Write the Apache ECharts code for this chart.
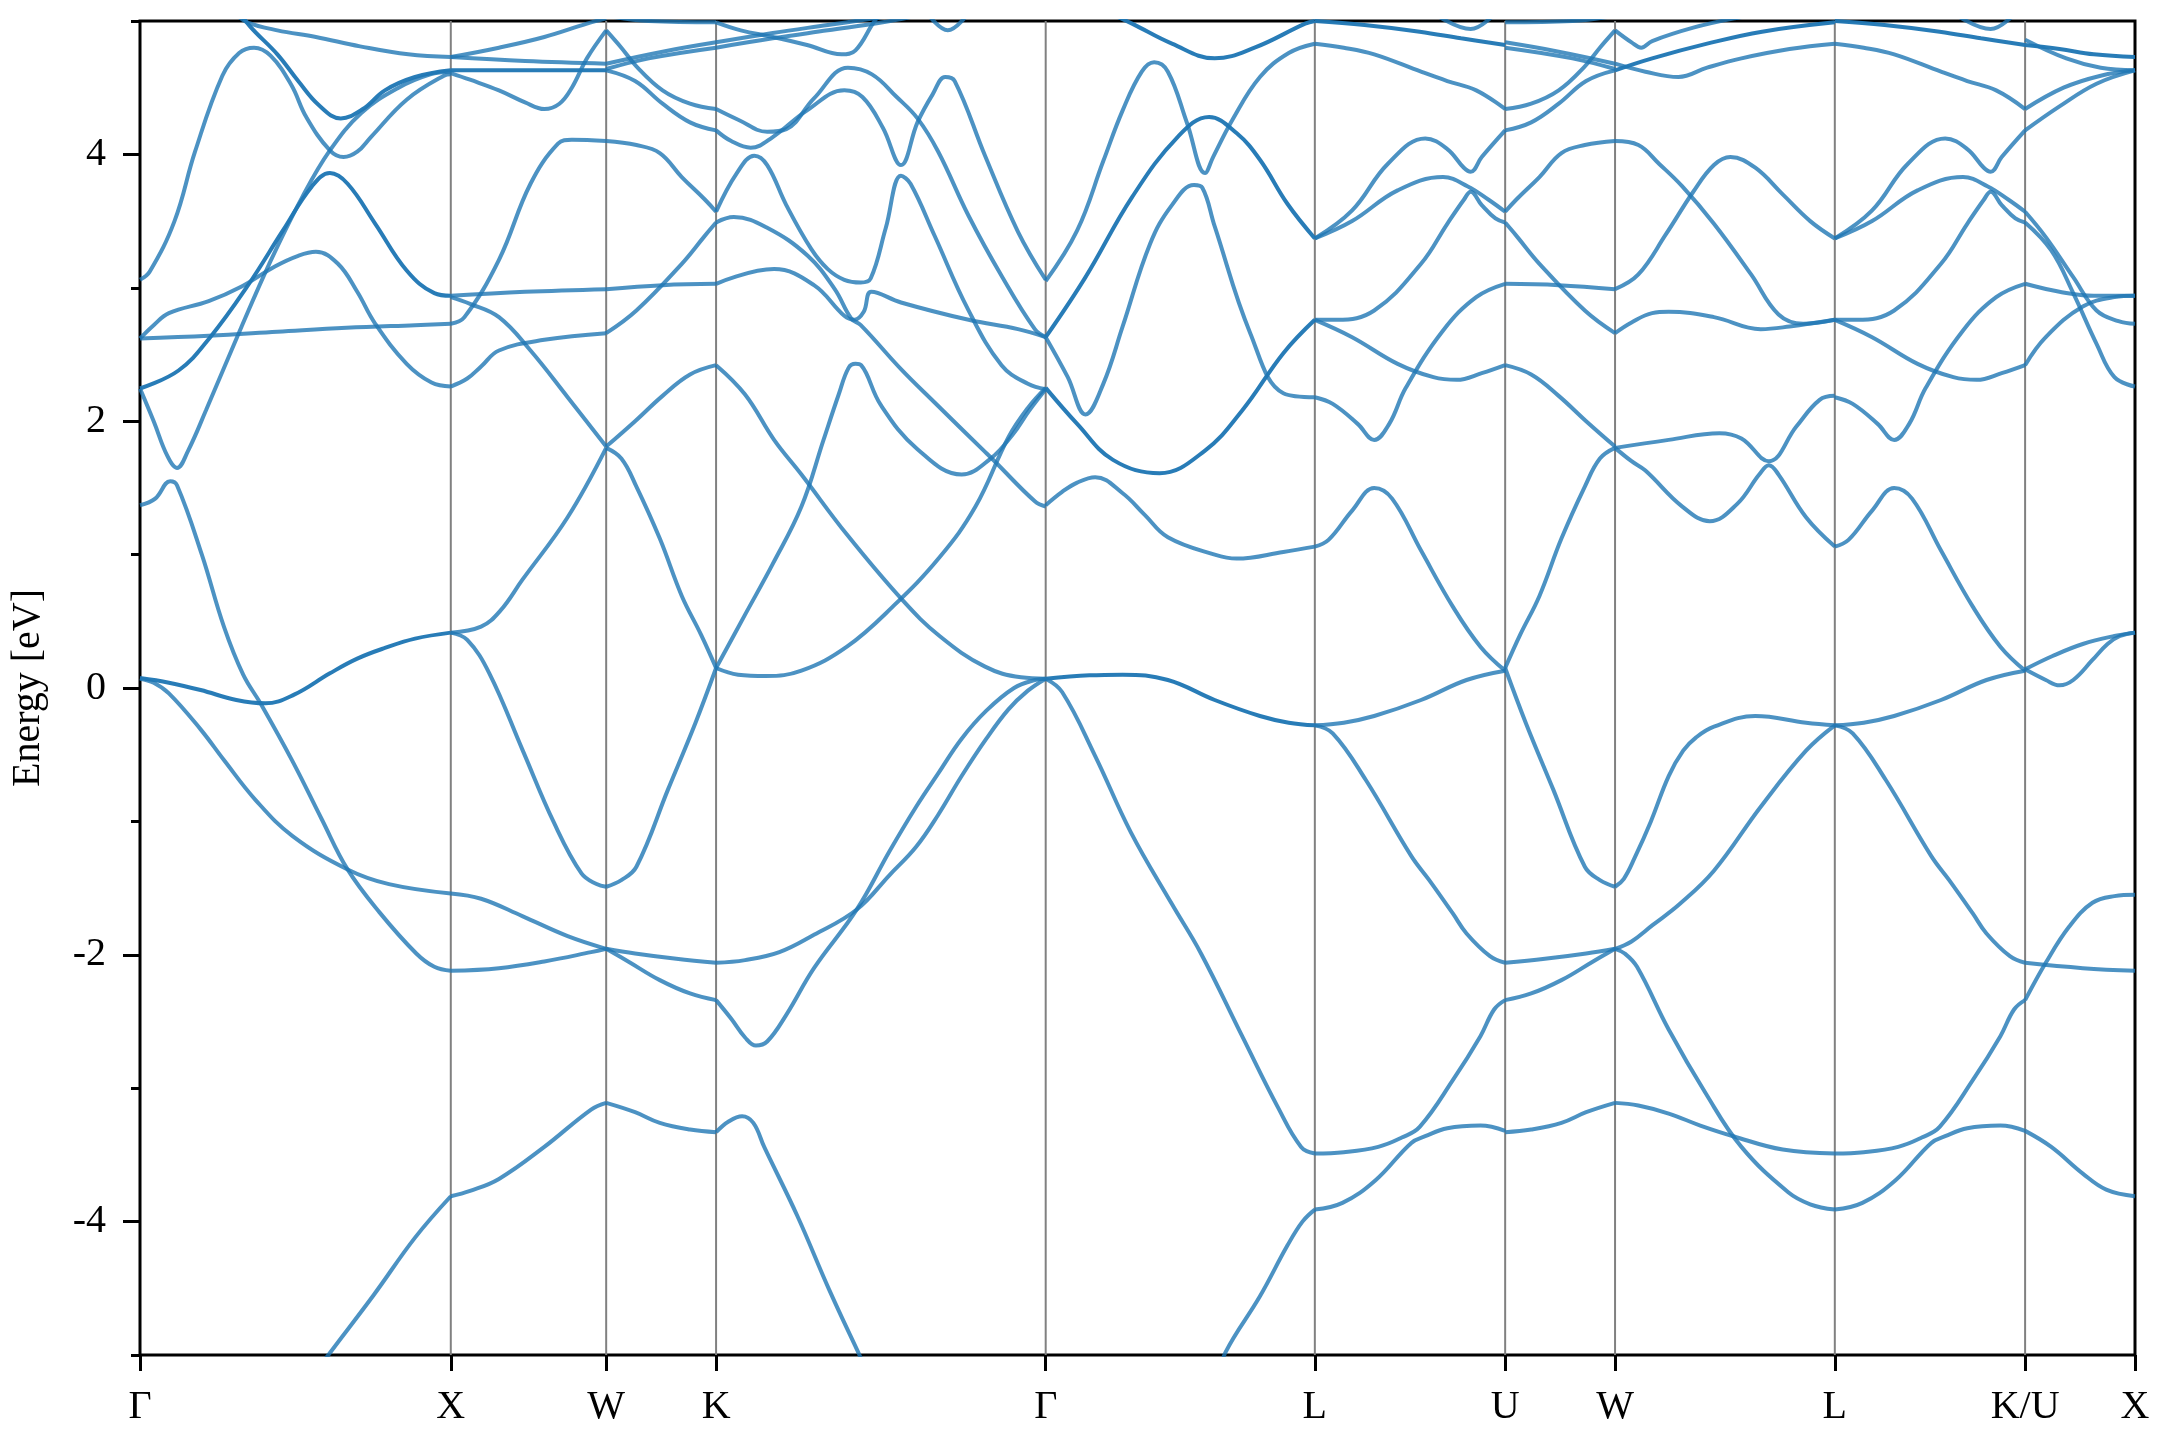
<!DOCTYPE html>
<html>
<head>
<meta charset="utf-8">
<script src="https://cdn.jsdelivr.net/npm/echarts@6/dist/echarts.min.js"></script>
<style>
html,body{margin:0;padding:0;background:#fff;}
#chart{width:2160px;height:1440px;}
</style>
</head>
<body>
<div id="chart"></div>
<script>
// High-symmetry points along the FCC path (path length in units of 2π/a)
const kTicks = [0, 1, 1.5, 1.8536, 2.9142, 3.7802, 4.3926, 4.7462, 5.4533, 6.0656, 6.4192];
const kLabels = ['Γ', 'X', 'W', 'K', 'Γ', 'L', 'U', 'W', 'L', 'K/U', 'X'];
const yMajor = [-4, -2, 0, 2, 4];
const yMinor = [-5, -3, -1, 1, 3, 5];

// degenerate (doubly drawn) band marker
const dg = p => ({ p: p, d: true });

// Each band: list of [fraction along segment, energy eV]
const gammaX = [
  [[0.553,-5.17],[0.606,-5.0],[0.752,-4.55],[0.885,-4.12],[1,-3.81]],
  [[0,1.37],[0.049,1.42],[0.097,1.55],[0.119,1.52],[0.199,1.0],[0.27,0.46],[0.332,0.1],[0.389,-0.12],[0.491,-0.55],[0.584,-0.98],[0.668,-1.36],[0.77,-1.68],[0.889,-1.99],[0.947,-2.09],[1,-2.12]],
  [[0,0.07],[0.044,0.04],[0.093,-0.04],[0.195,-0.31],[0.27,-0.54],[0.372,-0.84],[0.491,-1.11],[0.668,-1.36],[0.801,-1.47],[1,-1.54]],
  dg([[0,0.075],[0.093,0.04],[0.195,-0.015],[0.31,-0.09],[0.403,-0.115],[0.496,-0.05],[0.611,0.11],[0.699,0.22],[0.788,0.3],[0.885,0.37],[1,0.415]]),
  dg([[0,2.245],[0.124,2.38],[0.226,2.63],[0.345,3.01],[0.46,3.43],[0.553,3.76],[0.611,3.86],[0.668,3.78],[0.757,3.48],[0.858,3.13],[0.947,2.96],[1,2.94]]),
  [[0,2.245],[0.044,2.0],[0.088,1.74],[0.119,1.65],[0.155,1.78],[0.212,2.08],[0.327,2.71],[0.416,3.18],[0.522,3.68],[0.611,4.03],[0.712,4.31],[0.832,4.5],[0.934,4.6],[1,4.62]],
  [[0,2.62],[0.221,2.64],[0.442,2.67],[0.664,2.7],[0.885,2.72],[1,2.73]],
  [[0,2.62],[0.044,2.72],[0.093,2.81],[0.221,2.9],[0.327,3.01],[0.434,3.16],[0.509,3.24],[0.566,3.27],[0.637,3.18],[0.699,2.97],[0.757,2.73],[0.858,2.43],[0.938,2.29],[1,2.26]],
  [[0,3.06],[0.031,3.12],[0.111,3.5],[0.177,4.02],[0.265,4.59],[0.319,4.76],[0.367,4.8],[0.42,4.74],[0.487,4.52],[0.535,4.28],[0.611,4.03],[0.655,3.98],[0.699,4.02],[0.743,4.13],[0.858,4.41],[0.978,4.59],[1,4.6]],
  dg([[0.31,5.1],[0.354,4.96],[0.442,4.75],[0.509,4.55],[0.575,4.37],[0.646,4.27],[0.717,4.34],[0.788,4.48],[0.885,4.58],[1,4.63]]),
  [[0.31,5.05],[0.345,4.99],[0.442,4.93],[0.566,4.88],[0.708,4.81],[0.863,4.75],[1,4.73]]
];

const xW = [
  [[0,-3.81],[0.124,-3.77],[0.31,-3.68],[0.602,-3.44],[0.903,-3.16],[1,-3.11]],
  [[0,-2.12],[0.31,-2.1],[0.602,-2.05],[0.903,-1.98],[1,-1.955]],
  [[0,-1.54],[0.195,-1.58],[0.46,-1.71],[0.752,-1.86],[1,-1.955]],
  [[0,0.415],[0.106,0.36],[0.248,0.11],[0.46,-0.46],[0.664,-1.01],[0.841,-1.39],[0.938,-1.47],[1,-1.49]],
  [[0,0.415],[0.195,0.46],[0.319,0.58],[0.46,0.81],[0.752,1.28],[1,1.8]],
  [[0,2.93],[0.124,2.88],[0.31,2.78],[0.513,2.53],[0.752,2.18],[1,1.81]],
  [[0,2.26],[0.106,2.32],[0.195,2.41],[0.31,2.53],[0.602,2.61],[1,2.66]],
  [[0,2.73],[0.088,2.78],[0.31,3.21],[0.513,3.78],[0.69,4.08],[0.779,4.11],[1,4.1]],
  [[0,2.94],[0.478,2.97],[1,2.99]],
  dg([[0,4.63],[0.478,4.63],[1,4.63]]),
  [[0,4.73],[0.478,4.7],[1,4.68]],
  [[0,4.61],[0.124,4.56],[0.31,4.48],[0.478,4.39],[0.602,4.34],[0.699,4.38],[0.779,4.5],[0.876,4.72],[1,4.93]],
  [[0,4.73],[0.31,4.8],[0.602,4.88],[0.876,4.98],[1,5.02]]
];

// W -> K (also used reversed for U -> W)
const wK = [
  [[0,-3.11],[0.263,-3.18],[0.488,-3.26],[0.763,-3.31],[1,-3.33]],
  [[0,-1.955],[0.263,-1.99],[0.638,-2.03],[1,-2.06]],
  [[0,-1.955],[0.2,-2.05],[0.488,-2.19],[0.763,-2.29],[1,-2.34]],
  [[0,-1.49],[0.138,-1.44],[0.275,-1.34],[0.563,-0.76],[0.813,-0.26],[1,0.15]],
  [[0,1.8],[0.138,1.72],[0.275,1.51],[0.488,1.12],[0.688,0.69],[0.863,0.4],[1,0.15]],
  [[0,1.81],[0.263,2.0],[0.513,2.19],[0.763,2.35],[1,2.42]],
  [[0,2.66],[0.275,2.83],[0.688,3.18],[0.888,3.38],[1,3.49]],
  [[0,2.99],[0.513,3.02],[1,3.03]],
  [[0,4.1],[0.275,4.07],[0.488,4.01],[0.688,3.83],[0.9,3.66],[1,3.57]],
  [[0,4.93],[0.138,4.8],[0.275,4.66],[0.513,4.48],[0.763,4.38],[1,4.34]],
  [[0,4.63],[0.263,4.55],[0.513,4.38],[0.763,4.24],[1,4.18]],
  [[0,4.64],[0.388,4.72],[1,4.8]],
  [[0,4.68],[0.513,4.77],[1,4.84]],
  [[0,5.04],[0.388,5.0],[1,4.99]]
];

const kGamma = [
  [[0,-3.33],[0.038,-3.25],[0.079,-3.21],[0.113,-3.26],[0.146,-3.44],[0.247,-3.96],[0.343,-4.51],[0.435,-5.0],[0.464,-5.15]],
  [[0,-2.34],[0.046,-2.48],[0.088,-2.62],[0.121,-2.68],[0.155,-2.65],[0.213,-2.45],[0.297,-2.1],[0.427,-1.66],[0.527,-1.22],[0.607,-0.89],[0.674,-0.64],[0.745,-0.38],[0.82,-0.17],[0.904,0.0],[0.967,0.06],[1,0.07]],
  [[0,-2.06],[0.088,-2.04],[0.192,-1.98],[0.297,-1.85],[0.427,-1.66],[0.527,-1.4],[0.607,-1.19],[0.674,-0.95],[0.745,-0.66],[0.82,-0.38],[0.887,-0.16],[0.946,-0.02],[1,0.07]],
  [[0,0.15],[0.067,0.1],[0.151,0.09],[0.259,0.13],[0.397,0.31],[0.536,0.61],[0.678,0.98],[0.787,1.36],[0.887,1.88],[0.946,2.1],[1,2.25]],
  [[0,0.15],[0.088,0.55],[0.172,0.93],[0.259,1.36],[0.326,1.86],[0.372,2.2],[0.402,2.4],[0.423,2.43],[0.44,2.42],[0.5,2.12],[0.611,1.79],[0.745,1.6],[0.833,1.72],[0.9,1.9],[0.95,2.08],[1,2.24]],
  [[0,2.42],[0.088,2.2],[0.176,1.86],[0.259,1.6],[0.397,1.15],[0.565,0.66],[0.678,0.39],[0.816,0.16],[0.925,0.08],[1,0.07]],
  [[0,3.49],[0.054,3.53],[0.155,3.45],[0.278,3.24],[0.36,2.99],[0.41,2.77],[0.439,2.72],[0.561,2.39],[0.663,2.14],[0.816,1.77],[0.845,1.7],[0.967,1.4],[1,1.36]],
  [[0,3.03],[0.176,3.14],[0.297,3.02],[0.389,2.79],[0.42,2.76],[0.448,2.82],[0.471,2.97],[0.561,2.89],[0.766,2.76],[0.916,2.69],[1,2.63]],
  [[0,3.57],[0.063,3.86],[0.116,3.99],[0.155,3.92],[0.213,3.62],[0.289,3.29],[0.339,3.14],[0.389,3.06],[0.439,3.04],[0.469,3.07],[0.515,3.45],[0.561,3.84],[0.59,3.78],[0.663,3.39],[0.764,2.84],[0.866,2.42],[0.946,2.28],[1,2.24]],
  [[0,4.34],[0.067,4.26],[0.155,4.17],[0.213,4.19],[0.297,4.42],[0.4,4.65],[0.473,4.6],[0.548,4.43],[0.611,4.27],[0.674,4.02],[0.766,3.54],[0.866,3.09],[0.967,2.69],[1,2.63]],
  [[0,4.18],[0.046,4.1],[0.105,4.05],[0.172,4.13],[0.276,4.33],[0.389,4.48],[0.444,4.43],[0.506,4.2],[0.561,3.92],[0.611,4.24],[0.657,4.45],[0.695,4.58],[0.724,4.55],[0.816,3.99],[0.916,3.42],[1,3.06]],
  [[0,4.84],[0.172,4.91],[0.339,4.97],[0.506,5.03]],
  [[0,4.8],[0.172,4.87],[0.339,4.93],[0.506,4.99],[0.59,5.03]],
  [[0,4.99],[0.075,4.93],[0.172,4.88],[0.276,4.82],[0.381,4.75],[0.423,4.78],[0.481,5.0],[0.506,5.06]],
  [[0.64,5.06],[0.703,4.93],[0.766,5.06]]
];

const gammaL = [
  [[0.648,-5.15],[0.668,-4.98],[0.796,-4.56],[0.898,-4.18],[0.954,-4.0],[1,-3.91]],
  [[0,0.07],[0.061,-0.03],[0.184,-0.51],[0.316,-1.08],[0.469,-1.62],[0.577,-1.99],[0.73,-2.61],[0.862,-3.14],[0.949,-3.44],[1,-3.49]],
  dg([[0,0.07],[0.163,0.095],[0.286,0.1],[0.454,0.06],[0.628,-0.09],[0.796,-0.21],[0.903,-0.26],[1,-0.28]]),
  [[0,1.37],[0.061,1.47],[0.117,1.54],[0.184,1.58],[0.286,1.46],[0.367,1.3],[0.454,1.13],[0.628,1.0],[0.709,0.97],[0.883,1.02],[1,1.06]],
  dg([[0,2.25],[0.117,1.98],[0.25,1.71],[0.423,1.61],[0.592,1.78],[0.73,2.08],[0.883,2.51],[1,2.76]]),
  dg([[0,2.63],[0.148,3.08],[0.321,3.68],[0.49,4.13],[0.607,4.28],[0.709,4.16],[0.796,3.96],[0.898,3.63],[1,3.37]]),
  [[0,2.63],[0.082,2.33],[0.148,2.05],[0.214,2.28],[0.286,2.71],[0.388,3.33],[0.469,3.62],[0.551,3.77],[0.582,3.75],[0.628,3.46],[0.76,2.66],[0.883,2.21],[1,2.18]],
  [[0,3.05],[0.117,3.43],[0.214,3.95],[0.286,4.33],[0.357,4.62],[0.403,4.69],[0.454,4.62],[0.526,4.23],[0.592,3.86],[0.622,3.98],[0.694,4.26],[0.796,4.58],[0.903,4.76],[1,4.83]],
  dg([[0.214,5.08],[0.321,4.98],[0.469,4.83],[0.628,4.72],[0.776,4.8],[0.964,4.98],[1,5.0]])
];

// L -> U (also used for L -> K)
const lU = [
  [[0,-3.91],[0.145,-3.86],[0.319,-3.69],[0.507,-3.41],[0.58,-3.36],[0.696,-3.3],[0.87,-3.28],[1,-3.32]],
  [[0,-3.49],[0.152,-3.48],[0.333,-3.44],[0.457,-3.37],[0.551,-3.29],[0.725,-2.94],[0.87,-2.61],[0.942,-2.41],[1,-2.34]],
  [[0,-0.28],[0.094,-0.34],[0.268,-0.69],[0.507,-1.26],[0.601,-1.44],[0.725,-1.69],[0.797,-1.84],[0.92,-2.01],[1,-2.06]],
  [[0,-0.28],[0.152,-0.26],[0.312,-0.21],[0.558,-0.09],[0.797,0.06],[1,0.13]],
  [[0,1.06],[0.072,1.11],[0.196,1.33],[0.312,1.5],[0.406,1.42],[0.558,1.03],[0.725,0.61],[0.87,0.31],[1,0.13]],
  [[0,2.18],[0.094,2.13],[0.225,1.98],[0.312,1.86],[0.391,1.98],[0.478,2.25],[0.674,2.68],[0.848,2.93],[1,3.03]],
  [[0,2.76],[0.196,2.63],[0.435,2.43],[0.623,2.33],[0.746,2.31],[0.877,2.36],[1,2.42]],
  [[0,2.76],[0.116,2.76],[0.312,2.83],[0.558,3.18],[0.696,3.48],[0.783,3.66],[0.819,3.72],[0.877,3.62],[0.949,3.52],[1,3.49]],
  [[0,3.37],[0.196,3.58],[0.384,3.93],[0.58,4.12],[0.696,4.04],[0.783,3.9],[0.819,3.87],[0.877,3.98],[1,4.18]],
  [[0,3.37],[0.196,3.5],[0.435,3.73],[0.674,3.83],[0.804,3.76],[0.913,3.66],[1,3.57]],
  [[0,4.83],[0.152,4.8],[0.312,4.75],[0.558,4.62],[0.696,4.55],[0.848,4.48],[1,4.34]],
  dg([[0,5.0],[0.261,4.97],[0.551,4.92],[0.768,4.87],[1,4.82]]),
  [[0.623,5.06],[0.819,4.94],[0.949,5.06]]
];

const wL = [
  [[0,-3.11],[0.106,-3.13],[0.244,-3.19],[0.388,-3.28],[0.538,-3.36],[0.763,-3.46],[1,-3.49]],
  [[0,-1.955],[0.044,-1.99],[0.1,-2.09],[0.244,-2.56],[0.413,-3.04],[0.575,-3.44],[0.788,-3.78],[0.888,-3.87],[1,-3.91]],
  [[0,-1.955],[0.075,-1.9],[0.169,-1.78],[0.294,-1.62],[0.45,-1.37],[0.663,-0.89],[0.869,-0.47],[1,-0.28]],
  [[0,-1.49],[0.04,-1.43],[0.09,-1.27],[0.163,-1.0],[0.244,-0.66],[0.31,-0.47],[0.369,-0.37],[0.45,-0.29],[0.638,-0.21],[0.869,-0.26],[1,-0.28]],
  [[0,1.8],[0.075,1.7],[0.138,1.63],[0.306,1.36],[0.431,1.25],[0.556,1.38],[0.656,1.6],[0.7,1.67],[0.744,1.6],[0.869,1.28],[1,1.06]],
  [[0,1.8],[0.244,1.86],[0.475,1.91],[0.575,1.87],[0.7,1.7],[0.825,1.96],[0.931,2.16],[1,2.19]],
  [[0,2.66],[0.075,2.74],[0.169,2.81],[0.244,2.82],[0.45,2.78],[0.663,2.69],[0.794,2.71],[1,2.76]],
  [[0,4.1],[0.106,4.07],[0.2,3.93],[0.306,3.76],[0.45,3.48],[0.619,3.1],[0.744,2.8],[0.856,2.73],[1,2.76]],
  [[0,2.99],[0.106,3.1],[0.231,3.4],[0.356,3.72],[0.45,3.92],[0.525,3.98],[0.638,3.9],[0.763,3.7],[0.888,3.5],[1,3.37]],
  [[0,4.68],[0.138,4.62],[0.288,4.58],[0.419,4.65],[0.575,4.72],[0.794,4.79],[1,4.83]],
  dg([[0,4.63],[0.169,4.72],[0.419,4.83],[0.669,4.92],[1,4.99]]),
  [[0,4.93],[0.075,4.84],[0.119,4.8],[0.169,4.85],[0.356,4.95],[0.544,5.02],[0.731,5.07]]
];

const uX = [
  [[0,-3.32],[0.238,-3.44],[0.525,-3.64],[0.738,-3.76],[1,-3.81]],
  [[0,-2.34],[0.188,-2.06],[0.4,-1.79],[0.613,-1.61],[0.813,-1.56],[1,-1.55]],
  [[0,-2.06],[0.525,-2.1],[1,-2.12]],
  [[0,0.14],[0.25,0.24],[0.525,0.33],[0.813,0.39],[1,0.415]],
  [[0,0.14],[0.188,0.06],[0.313,0.02],[0.438,0.06],[0.613,0.21],[0.75,0.33],[0.863,0.39],[1,0.415]],
  [[0,2.42],[0.188,2.63],[0.525,2.86],[0.813,2.93],[1,2.94]],
  [[0,3.03],[0.313,2.97],[0.625,2.94],[1,2.94]],
  [[0,3.57],[0.188,3.38],[0.438,3.08],[0.65,2.83],[0.85,2.75],[1,2.73]],
  [[0,3.49],[0.238,3.28],[0.438,2.96],[0.65,2.58],[0.813,2.33],[1,2.26]],
  [[0,4.18],[0.313,4.36],[0.65,4.53],[1,4.63]],
  [[0,4.34],[0.35,4.5],[0.688,4.59],[1,4.63]],
  dg([[0,4.82],[0.313,4.79],[0.625,4.75],[1,4.73]]),
  [[0,4.86],[0.375,4.72],[0.688,4.65],[1,4.63]]
];

// path segments: [from tick, to tick, bands, reversed]
const segments = [
  [0, 1, gammaX, false], [1, 2, xW, false], [2, 3, wK, false], [3, 4, kGamma, false],
  [4, 5, gammaL, false], [5, 6, lU, false], [6, 7, wK, true], [7, 8, wL, false],
  [8, 9, lU, false], [9, 10, uX, false]
];

const FONT = 'Liberation Serif';
const series = [];

// vertical lines at interior high-symmetry points
kTicks.slice(1, -1).forEach(k => {
  series.push({
    type: 'line', data: [[k, -5], [k, 5]], showSymbol: false, silent: true,
    lineStyle: { color: '#808080', width: 2 }, z: 1, animation: false
  });
});

segments.forEach(([a, b, bands, rev]) => {
  const k0 = rev ? kTicks[b] : kTicks[a];
  const k1 = rev ? kTicks[a] : kTicks[b];
  bands.forEach(c => {
    const pts = Array.isArray(c) ? c : c.p;
    const deg = !Array.isArray(c) && c.d;
    const data = pts.map(([t, e]) => [k0 + t * (k1 - k0), e]).sort((u, v) => u[0] - v[0]);
    series.push({
      type: 'line', data: data, showSymbol: false, silent: true,
      smooth: 0.4, clip: true, z: 2, animation: false,
      lineStyle: { color: '#1f77b4', width: 4, opacity: deg ? 0.96 : 0.8 }
    });
  });
});

const chart = echarts.init(document.getElementById('chart'), null, { renderer: 'canvas' });
chart.setOption({
  backgroundColor: '#ffffff',
  animation: false,
  grid: { left: 138, right: 25, top: 21, bottom: 85, show: true, borderColor: '#000', borderWidth: 3, backgroundColor: 'transparent' },
  xAxis: {
    type: 'value', min: 0, max: kTicks[kTicks.length - 1],
    axisLine: { show: false, onZero: false },
    splitLine: { show: false },
    axisTick: { show: true, customValues: kTicks, length: 16, lineStyle: { color: '#000', width: 3 } },
    axisLabel: {
      show: true, customValues: kTicks, margin: 32,
      fontFamily: FONT, fontSize: 40, color: '#000',
      formatter: v => { const i = kTicks.findIndex(k => Math.abs(k - v) < 1e-6); return i >= 0 ? kLabels[i] : ''; }
    }
  },
  yAxis: [{
    type: 'value', min: -5, max: 5,
    axisLine: { show: false, onZero: false },
    splitLine: { show: false },
    axisTick: { show: true, customValues: yMajor, length: 17, lineStyle: { color: '#000', width: 3 } },
    axisLabel: { show: true, customValues: yMajor, margin: 34, fontFamily: FONT, fontSize: 40, color: '#000' },
    name: 'Energy [eV]', nameLocation: 'middle', nameGap: 92,
    nameTextStyle: { fontFamily: FONT, fontSize: 40, color: '#000' }
  }, {
    type: 'value', min: -5, max: 5, position: 'left', offset: 0,
    axisLine: { show: false, onZero: false }, splitLine: { show: false },
    axisTick: { show: true, customValues: yMinor, length: 9, lineStyle: { color: '#000', width: 3 } },
    axisLabel: { show: false }
  }],
  series: series
});
</script>
</body>
</html>
